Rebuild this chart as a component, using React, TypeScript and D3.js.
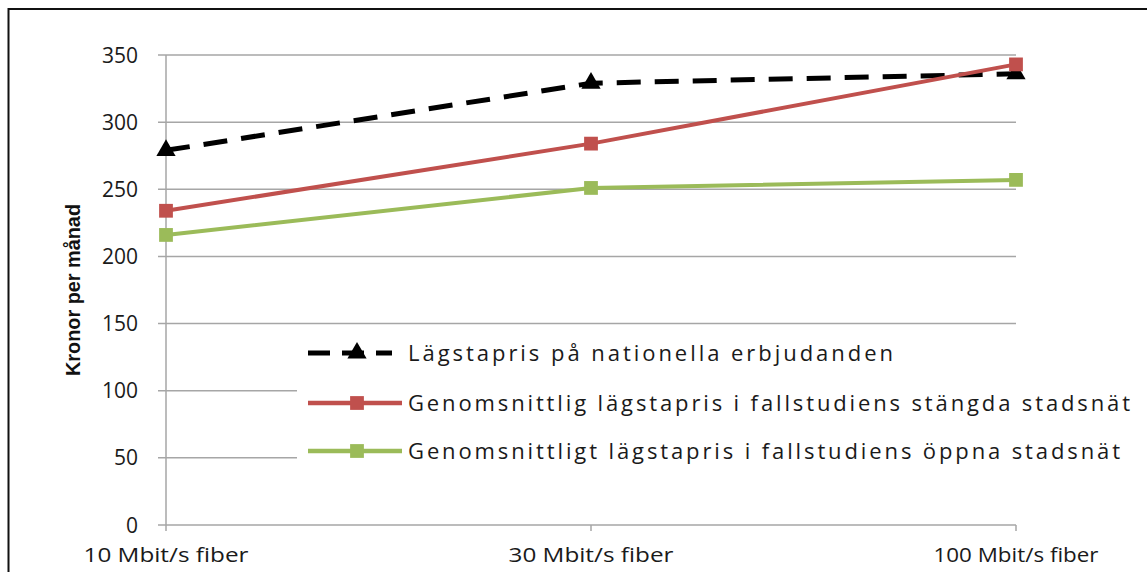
import React, { useEffect, useRef } from "react";
import * as d3 from "d3";

// kategorier och värden
const categories = ["10 Mbit/s fiber", "30 Mbit/s fiber", "100 Mbit/s fiber"];
const nationella = [279, 329, 336];
const stangda = [234, 284, 343];
const oppna = [216, 251, 257];
const yTicks = [0, 50, 100, 150, 200, 250, 300, 350];
const seriesNames = [
  "Lägstapris på nationella erbjudanden",
  "Genomsnittlig lägstapris i fallstudiens stängda stadsnät",
  "Genomsnittligt lägstapris i fallstudiens öppna stadsnät",
];

const W = 1147;
const H = 572;
const FONT = "'Open Sans', 'DejaVu Sans', sans-serif";

const App = () => {
  const ref = useRef<SVGSVGElement>(null);

  useEffect(() => {
    const svg = d3.select(ref.current);
    svg.selectAll("*").remove();

    // ram runt diagrammet
    svg
      .append("rect")
      .attr("x", 8.5)
      .attr("y", 9)
      .attr("width", 1200)
      .attr("height", 600)
      .attr("fill", "white")
      .attr("stroke", "#111")
      .attr("stroke-width", 2);

    const x = d3.scalePoint().domain(categories).range([166, 1016]);
    const y = d3.scaleLinear().domain([0, 350]).range([525, 55]);

    // rutnät
    svg
      .append("g")
      .selectAll("line")
      .data(yTicks)
      .join("line")
      .attr("x1", 158)
      .attr("x2", 1016)
      .attr("y1", (d) => y(d))
      .attr("y2", (d) => y(d))
      .attr("stroke", "#a6a6a6")
      .attr("stroke-width", 1.5);

    // y-axel
    svg
      .append("line")
      .attr("x1", 166)
      .attr("x2", 166)
      .attr("y1", y(350))
      .attr("y2", y(0))
      .attr("stroke", "#a6a6a6")
      .attr("stroke-width", 1.5);

    // x-tickmarks
    svg
      .append("g")
      .selectAll("line")
      .data(categories)
      .join("line")
      .attr("x1", (d) => x(d)!)
      .attr("x2", (d) => x(d)!)
      .attr("y1", y(0))
      .attr("y2", y(0) + 6)
      .attr("stroke", "#a6a6a6")
      .attr("stroke-width", 1.5);

    svg
      .append("g")
      .selectAll("text")
      .data(yTicks)
      .join("text")
      .attr("x", 138)
      .attr("y", (d) => y(d))
      .attr("dy", "0.36em")
      .attr("text-anchor", "end")
      .attr("font-family", FONT)
      .attr("font-size", 21)
      .attr("fill", "#1a1a1a")
      .text((d) => d);

    svg
      .append("g")
      .selectAll("text")
      .data(categories)
      .join("text")
      .attr("x", (d) => x(d)!)
      .attr("y", 562)
      .attr("text-anchor", "middle")
      .attr("font-family", FONT)
      .attr("font-size", 20)
      .attr("fill", "#1a1a1a")
      .attr("textLength", 165)
      .attr("lengthAdjust", "spacingAndGlyphs")
      .text((d) => d);

    svg
      .append("text")
      .attr("transform", "translate(80,290) rotate(-90)")
      .attr("text-anchor", "middle")
      .attr("font-family", "'Liberation Sans Narrow', 'Liberation Sans', sans-serif")
      .attr("font-weight", "bold")
      .attr("font-size", 20)
      .attr("fill", "#111")
      .attr("textLength", 172)
      .attr("lengthAdjust", "spacingAndGlyphs")
      .text("Kronor per månad");

    const line = d3
      .line<number>()
      .x((_, i) => x(categories[i])!)
      .y((d) => y(d));

    const tri = d3.symbol().type(d3.symbolTriangle).size(160);
    const sq = d3.symbol().type(d3.symbolSquare).size(190);

    // linjer
    svg
      .append("path")
      .attr("d", line(nationella))
      .attr("fill", "none")
      .attr("stroke", "#000")
      .attr("stroke-width", 5)
      .attr("stroke-dasharray", "24,14");
    svg
      .append("path")
      .attr("d", line(stangda))
      .attr("fill", "none")
      .attr("stroke", "#c0504d")
      .attr("stroke-width", 4);
    svg
      .append("path")
      .attr("d", line(oppna))
      .attr("fill", "none")
      .attr("stroke", "#9bbb59")
      .attr("stroke-width", 4);

    // markörer
    svg
      .append("g")
      .selectAll("path")
      .data(nationella)
      .join("path")
      .attr("d", tri)
      .attr("transform", (d, i) => `translate(${x(categories[i])},${y(d)})`)
      .attr("fill", "#000");
    svg
      .append("g")
      .selectAll("path")
      .data(stangda)
      .join("path")
      .attr("d", sq)
      .attr("transform", (d, i) => `translate(${x(categories[i])},${y(d)})`)
      .attr("fill", "#c0504d");
    svg
      .append("g")
      .selectAll("path")
      .data(oppna)
      .join("path")
      .attr("d", sq)
      .attr("transform", (d, i) => `translate(${x(categories[i])},${y(d)})`)
      .attr("fill", "#9bbb59");

    // förklaring med vit bakgrund
    svg
      .append("rect")
      .attr("x", 297)
      .attr("y", 333)
      .attr("width", 840)
      .attr("height", 145)
      .attr("fill", "white");

    const colors = ["#000", "#c0504d", "#9bbb59"];
    const rowsY = [353, 403, 451];
    const lg = svg.append("g");
    seriesNames.forEach((name, i) => {
      lg.append("line")
        .attr("x1", 308)
        .attr("x2", i === 0 ? 392 : 402)
        .attr("y1", rowsY[i])
        .attr("y2", rowsY[i])
        .attr("stroke", colors[i])
        .attr("stroke-width", i === 0 ? 5 : 4.5)
        .attr("stroke-dasharray", i === 0 ? "22,12" : null);
      lg.append("path")
        .attr("d", i === 0 ? tri : sq)
        .attr("transform", `translate(357,${rowsY[i]})`)
        .attr("fill", colors[i]);
      lg.append("text")
        .attr("x", 408)
        .attr("y", rowsY[i])
        .attr("dy", "0.36em")
        .attr("font-family", FONT)
        .attr("font-size", 22)
        .attr("fill", "#1a1a1a")
        .attr("textLength", [485, 722, 712][i])
        .attr("lengthAdjust", "spacing")
        .text(name);
    });
  }, []);

  return (
    <svg
      ref={ref}
      width={W}
      height={H}
      style={{ position: "absolute", left: 0, top: 0, background: "white" }}
    />
  );
};

export default App;
